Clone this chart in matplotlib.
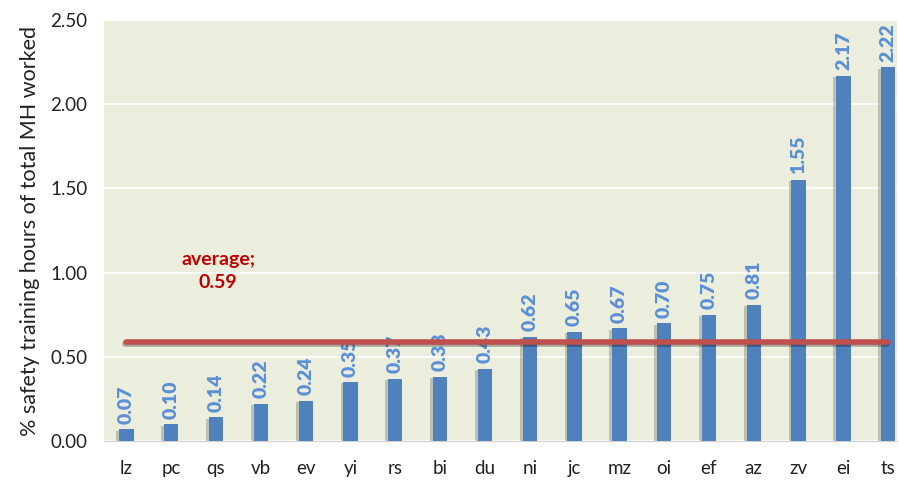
import numpy as np
import matplotlib.pyplot as plt
import matplotlib.patheffects as pe

categories = ["lz", "pc", "qs", "vb", "ev", "yi", "rs", "bi", "du", "ni",
              "jc", "mz", "oi", "ef", "az", "zv", "ei", "ts"]
values = [0.07, 0.10, 0.14, 0.22, 0.24, 0.35, 0.37, 0.38, 0.43, 0.62,
          0.65, 0.67, 0.70, 0.75, 0.81, 1.55, 2.17, 2.22]
average = 0.59
y_ticks = [0.0, 0.5, 1.0, 1.5, 2.0, 2.5]

plt.rcParams["font.family"] = ["Lato", "DejaVu Sans"]

fig = plt.figure(figsize=(8.99, 4.82), dpi=100)
ax = fig.add_axes([0.1157, 0.085, 0.8823, 0.8735])
ax.set_facecolor("#EBEEDD")

x = np.arange(len(categories))
shadow = [pe.SimplePatchShadow(offset=(-2, -1), shadow_rgbFace="#6b6b60", alpha=0.35), pe.Normal()]
bars = ax.bar(x, values, width=0.32, color="#4F81BD", zorder=3)
for b in bars:
    b.set_path_effects(shadow)

for xi, v in zip(x, values):
    ax.annotate(f"{v:.2f}", (xi, v), xytext=(0, 4), textcoords="offset points",
                rotation=90, ha="center", va="bottom", color="#5B8FD6",
                fontsize=14, fontweight="heavy", zorder=4)

ax.plot([x[0], x[-1]], [average, average], color="#C0504D", linewidth=4,
        solid_capstyle="round", zorder=5,
        path_effects=[pe.SimpleLineShadow(offset=(-1, -2), alpha=0.3), pe.Normal()])
ax.text(2.05, 1.01, f"average;\n{average:.2f}", ha="center", va="center",
        color="#C00000", fontsize=14, fontweight="bold", linespacing=1.4)

ax.set_xlim(-0.5, 17.2)
ax.set_ylim(0, 2.5)
ax.set_yticks(y_ticks)
ax.set_yticklabels([f"{t:.2f}" for t in y_ticks])
ax.set_xticks(x)
ax.set_xticklabels(categories)
ax.tick_params(axis="both", length=0, labelsize=13.5, colors="#222222")
ax.tick_params(axis="x", pad=14)
ax.tick_params(axis="y", pad=12)
ax.yaxis.grid(True, color="white", linewidth=1.2, zorder=1)
ax.set_axisbelow(True)
for side in ["top", "right", "left"]:
    ax.spines[side].set_visible(False)
ax.spines["bottom"].set_color("#d0d0d0")

ax.set_ylabel("% safety training hours of total MH worked", fontsize=15.5, color="#222222", labelpad=7)

fig.savefig("out.png", dpi=100)
